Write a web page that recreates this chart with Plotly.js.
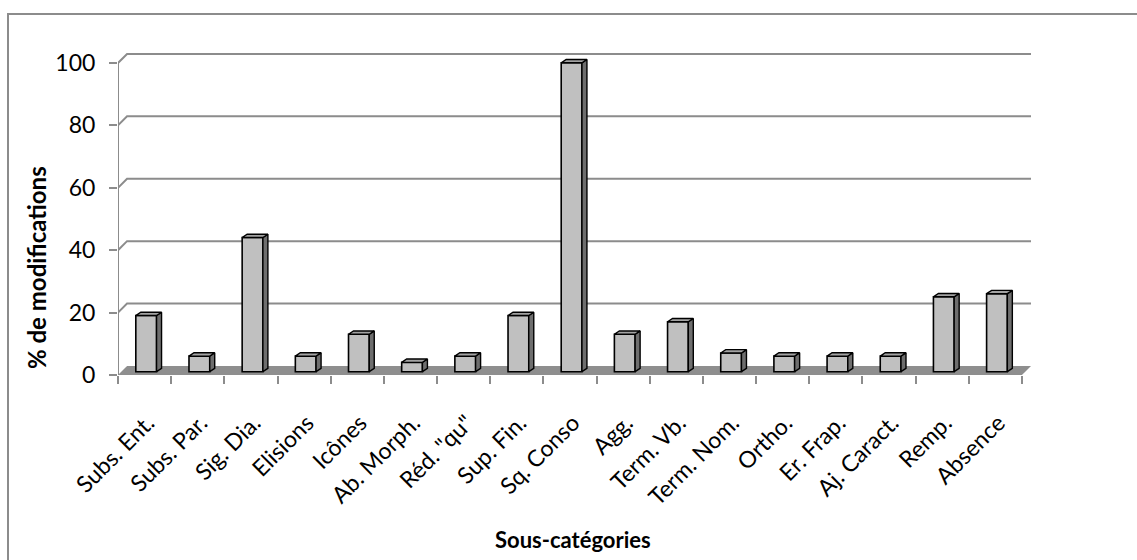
<!DOCTYPE html>
<html>
<head>
<meta charset="utf-8">
<script src="https://cdn.plot.ly/plotly-3.0.1.min.js"></script>
<style>
  html, body { margin: 0; padding: 0; background: #fff; }
  #chart { position: absolute; left: 0; top: 0; width: 1137px; height: 560px; }
  #frame { position: absolute; left: 7px; top: 13px; width: 1200px; height: 600px;
           border: 2px solid #8c8c8c; pointer-events: none; box-sizing: border-box; }
</style>
</head>
<body>
<div id="chart"></div>
<div id="frame"></div>
<script>
// ---- data ----
const categories = ["Subs. Ent.", "Subs. Par.", "Sig. Dia.", "Elisions", "Icônes", "Ab. Morph.",
  "Réd. \"qu\"", "Sup. Fin.", "Sq. Conso", "Agg.", "Term. Vb.", "Term. Nom.", "Ortho.",
  "Er. Frap.", "Aj. Caract.", "Remp.", "Absence"];
const values = [18, 5, 43, 5, 12, 3, 5, 18, 99, 12, 16, 6, 5, 5, 5, 24, 25];
const yTicks = [0, 20, 40, 60, 80, 100];
const xTitle = "Sous-catégories";
const yTitle = "% de modifications";

// ---- geometry (3D look) ----
const W = 1137, H = 560;
const L = 118, R = 1031, T = 45, B = 375;       // plot area pixels
const n = categories.length;
const wallDX = 0.17, wallDY = 2.9;              // back-wall depth offset (data units)
const xMin = -0.5, xMax = n - 0.5 + wallDX;
const yMax = (B - T) / 3.12;
const barBase = 1.06, barWidth = 0.39, barOffset = -0.165;
const depthDX = 0.094, depthDY = 1.06;

const idx = categories.map((_, i) => i);

// side and top faces
const sideX = [], sideY = [], topX = [], topY = [];
idx.forEach(i => {
  const v = values[i];
  const xl = i + barOffset, xr = xl + barWidth;
  const yb = barBase, yt = barBase + v;
  sideX.push(xr, xr, xr + depthDX, xr + depthDX, xr, null);
  sideY.push(yb, yt, yt + depthDY, yb + depthDY, yb, null);
  topX.push(xl, xr, xr + depthDX, xl + depthDX, xl, null);
  topY.push(yt, yt, yt + depthDY, yt + depthDY, yt, null);
});

const traces = [
  {
    type: 'bar', x: idx, y: values, base: barBase, width: barWidth, offset: barOffset,
    marker: { color: '#c0c0c0', line: { color: '#000', width: 1.6 } },
    hoverinfo: 'skip', showlegend: false
  },
  {
    type: 'scatter', mode: 'lines', x: sideX, y: sideY, fill: 'toself', fillcolor: '#6e6e6e',
    line: { color: '#000', width: 1.4 }, hoverinfo: 'skip', showlegend: false
  },
  {
    type: 'scatter', mode: 'lines', x: topX, y: topY, fill: 'toself', fillcolor: '#a3a3a3',
    line: { color: '#000', width: 1.4 }, hoverinfo: 'skip', showlegend: false
  }
];

const gridColor = '#8c8c8c';
const shapes = [];
// floor
shapes.push({
  type: 'path', xref: 'x', yref: 'y', layer: 'below',
  path: `M ${xMin},0 L ${n - 0.5},0 L ${n - 0.5 + wallDX},${wallDY} L ${xMin + wallDX},${wallDY} Z`,
  fillcolor: '#8e8e8e', line: { width: 0 }
});
// back-wall gridlines with left-wall diagonals
yTicks.forEach(v => {
  if (v === 0) return;
  shapes.push({
    type: 'path', xref: 'x', yref: 'y', layer: 'below',
    path: `M ${xMin},${v} L ${xMin + wallDX},${v + wallDY} L ${xMax},${v + wallDY}`,
    line: { color: gridColor, width: 2 }
  });
});
// front vertical axis line
shapes.push({
  type: 'line', xref: 'x', yref: 'y', layer: 'below',
  x0: xMin, x1: xMin, y0: 0, y1: yTicks[yTicks.length - 1],
  line: { color: gridColor, width: 2 }
});

const px2paperX = p => (p - L) / (R - L);
const px2paperY = p => (B - p) / (B - T);

const layout = {
  width: W, height: H,
  margin: { l: L, r: W - R, t: T, b: H - B, pad: 0 },
  paper_bgcolor: '#fff', plot_bgcolor: 'rgba(0,0,0,0)',
  font: { family: 'Lato, "Open Sans", sans-serif', color: '#000' },
  xaxis: {
    range: [xMin, xMax], fixedrange: true,
    showgrid: false, zeroline: false, showline: false,
    tickmode: 'array', tickvals: idx, ticktext: categories,
    ticks: '', tickangle: -45, tickfont: { size: 23 },
    ticklabelstandoff: 29, ticklabelshift: 3,
    minor: {
      tickmode: 'array', tickvals: idx.map(i => i - 0.5).concat([n - 0.5]),
      ticks: 'outside', ticklen: 8, tickwidth: 2, tickcolor: gridColor, showgrid: false
    }
  },
  yaxis: {
    range: [0, yMax], fixedrange: true,
    showgrid: false, zeroline: false, showline: false,
    tickmode: 'array', tickvals: yTicks,
    ticks: 'outside', ticklen: 8, tickwidth: 2, tickcolor: gridColor,
    ticklabelstandoff: 9,
    tickfont: { size: 23 }
  },
  shapes: shapes,
  annotations: [
    {
      text: '<b>' + yTitle + '</b>', xref: 'paper', yref: 'paper',
      x: px2paperX(36), y: px2paperY(268), textangle: -90,
      xanchor: 'center', yanchor: 'middle', showarrow: false, font: { size: 24 }
    },
    {
      text: '<b>' + xTitle + '</b>', xref: 'paper', yref: 'paper',
      x: px2paperX(573), y: px2paperY(539),
      xanchor: 'center', yanchor: 'middle', showarrow: false, font: { size: 22 }
    }
  ],
  showlegend: false
};

Plotly.newPlot('chart', traces, layout, { displayModeBar: false, staticPlot: true });
</script>
</body>
</html>
